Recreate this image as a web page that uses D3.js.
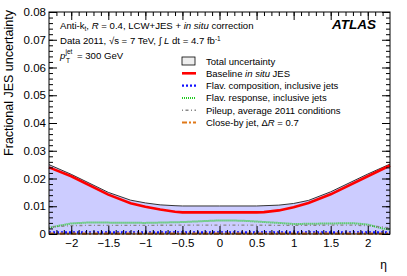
<!DOCTYPE html>
<meta charset="utf-8">
<script src="https://d3js.org/d3.v7.min.js"></script>
<style>
  body { margin: 0; background: #fff; }
  text { font-family: "Liberation Sans", Arial, sans-serif; }
</style>
<div id="my_dataviz"></div>
<script>

// values
var eta = [-2.3, -2.0, -1.5, -1.2, -1.0, -0.8, -0.6, -0.5, 0.0, 0.5, 0.6, 0.8, 1.0, 1.2, 1.5, 2.0, 2.3];
var total    = [0.0250, 0.0215, 0.0150, 0.0122, 0.0112, 0.0105, 0.0102, 0.0101, 0.0101, 0.0101, 0.0102, 0.0104, 0.0110, 0.0121, 0.0152, 0.0216, 0.0252];
var baseline = [0.0240, 0.0208, 0.0142, 0.0111, 0.0098, 0.0088, 0.0080, 0.0078, 0.0078, 0.0078, 0.0079, 0.0085, 0.0096, 0.0112, 0.0143, 0.0208, 0.0247];

var etaFine = [-2.3, -2.2, -2.0, -1.8, -1.5, -1.0, -0.5, 0.0, 0.3, 0.5, 0.8, 1.0, 1.5, 1.8, 2.0, 2.2, 2.3];
var flavResp = [0.0022, 0.0028, 0.0038, 0.0041, 0.0041, 0.0040, 0.0043, 0.0049, 0.0048, 0.0045, 0.0040, 0.0036, 0.0038, 0.0039, 0.0034, 0.0020, 0.0016];
var pileup   = [0.0024, 0.0027, 0.0030, 0.0031, 0.0031, 0.0031, 0.0032, 0.0032, 0.0032, 0.0032, 0.0031, 0.0031, 0.0032, 0.0032, 0.0030, 0.0025, 0.0022];
var flavComp = [0.0006, 0.0006, 0.0006, 0.0006, 0.0006, 0.0006, 0.0006, 0.0006, 0.0006, 0.0006, 0.0006, 0.0006, 0.0006, 0.0006, 0.0006, 0.0006, 0.0006];
var closeBy  = [0.0001, 0.0001, 0.0001, 0.0001, 0.0001, 0.0001, 0.0001, 0.0001, 0.0001, 0.0001, 0.0001, 0.0001, 0.0001, 0.0001, 0.0001, 0.0001, 0.0001];

var xTicks = [-2, -1.5, -1, -0.5, 0, 0.5, 1, 1.5, 2];
var yTicks = [0, 0.01, 0.02, 0.03, 0.04, 0.05, 0.06, 0.07, 0.08];

var legendNames = ["Total uncertainty", "Baseline in situ JES", "Flav. composition, inclusive jets",
  "Flav. response,  inclusive jets", "Pileup,  average 2011 conditions", "Close-by jet,  ΔR = 0.7"];

// dimensions
var W = 407, H = 276;
var margin = {top: 12, right: 17, bottom: 42, left: 49};
var width = W - margin.left - margin.right,
    height = H - margin.top - margin.bottom;

var svg = d3.select("#my_dataviz").append("svg")
    .attr("width", W).attr("height", H)
  .append("g")
    .attr("transform", "translate(" + margin.left + "," + margin.top + ")");

var x = d3.scaleLinear().domain([-2.3, 2.3]).range([0, width]);
var y = d3.scaleLinear().domain([0, 0.08]).range([height, 0]);

// total band
var area = d3.area().x(function(d){ return x(d[0]); }).y0(y(0)).y1(function(d){ return y(d[1]); });
var line = d3.line().x(function(d){ return x(d[0]); }).y(function(d){ return y(d[1]); });

var totPts = d3.zip(eta, total);
svg.append("path").attr("d", area(totPts)).attr("fill", "#ccccff");
svg.append("path").attr("d", line(totPts)).attr("fill", "none").attr("stroke", "#333").attr("stroke-width", 1);

// flav resp, pileup, flav comp, close-by, baseline
var series = [
  {pts: d3.zip(etaFine, flavResp), color: "#22cc22", w: 2, dash: "1,1"},
  {pts: d3.zip(etaFine, pileup), color: "#888888", w: 1.4, dash: "1,2.5,3,2.5"},
  {pts: d3.zip(etaFine, flavComp), color: "#1010ff", w: 2.2, dash: "2,2"},
  {pts: d3.zip(etaFine, closeBy), color: "#e07818", w: 2.2, dash: "5,2,2,2"},
  {pts: d3.zip(eta, baseline), color: "#ff0000", w: 2.6, dash: null}
];
series.forEach(function(s) {
  svg.append("path").attr("d", line(s.pts)).attr("fill", "none")
    .attr("stroke", s.color).attr("stroke-width", s.w)
    .attr("stroke-dasharray", s.dash);
});

// frame and axes
svg.append("rect").attr("width", width).attr("height", height)
  .attr("fill", "none").attr("stroke", "#000").attr("stroke-width", 1);

var xMinor = d3.range(-22, 23).map(function(v){ return v / 10; });
var yMinor = d3.range(0, 41).map(function(v){ return v * 0.002; });

function axisG(axis, tx, ty) {
  var g = svg.append("g").attr("transform", "translate(" + tx + "," + ty + ")").call(axis);
  g.select(".domain").remove();
  return g;
}

// bottom
axisG(d3.axisTop(x).tickValues(xMinor).tickSize(4).tickFormat(""), 0, height);
axisG(d3.axisTop(x).tickValues(xTicks).tickSize(8).tickFormat(""), 0, height);
axisG(d3.axisBottom(x).tickValues(xTicks).tickSize(0).tickPadding(5).tickFormat(d3.format("")), 0, height)
  .style("font-size", "11.5px");
// top
axisG(d3.axisBottom(x).tickValues(xMinor).tickSize(4).tickFormat(""), 0, 0);
axisG(d3.axisBottom(x).tickValues(xTicks).tickSize(8).tickFormat(""), 0, 0);
// left
axisG(d3.axisRight(y).tickValues(yMinor).tickSize(4).tickFormat(""), 0, 0);
axisG(d3.axisRight(y).tickValues(yTicks).tickSize(8).tickFormat(""), 0, 0);
axisG(d3.axisLeft(y).tickValues(yTicks).tickSize(0).tickPadding(3).tickFormat(function(d){ return d === 0 ? "0" : d3.format(".2f")(d); }), 0, 0)
  .style("font-size", "11.5px");
// right
axisG(d3.axisLeft(y).tickValues(yMinor).tickSize(4).tickFormat(""), width, 0);
axisG(d3.axisLeft(y).tickValues(yTicks).tickSize(8).tickFormat(""), width, 0);

svg.selectAll(".tick text").attr("fill", "#000").style("font-family", "'Liberation Sans', Arial, sans-serif");
svg.selectAll(".tick line").attr("stroke", "#000");

// axis titles (ROOT style: aligned to the top / right end)
svg.append("text").attr("x", width - 3).attr("y", height + 35)
  .attr("text-anchor", "end").style("font-size", "12px").text("η");
svg.append("text").attr("transform", "translate(-36,-2) rotate(-90)")
  .attr("text-anchor", "end").style("font-size", "12.5px").text("Fractional JES uncertainty");

// top-left labels
var fs = "9.6px", fsSmall = "6.5px";
var lab = svg.append("text").attr("x", 11).attr("y", 16.5).style("font-size", fs);
lab.append("tspan").text("Anti-k");
lab.append("tspan").attr("dy", 2).style("font-size", fsSmall).text("t");
lab.append("tspan").attr("dy", -2).text(", ");
lab.append("tspan").style("font-style", "italic").text("R");
lab.append("tspan").text(" = 0.4, LCW+JES + ");
lab.append("tspan").style("font-style", "italic").text("in situ");
lab.append("tspan").text(" correction");

var lab2 = svg.append("text").attr("x", 11).attr("y", 32).style("font-size", fs);
lab2.append("tspan").text("Data 2011, √s = 7 TeV, ∫ ");
lab2.append("tspan").style("font-style", "italic").text("L");
lab2.append("tspan").text(" dt = 4.7 fb");
lab2.append("tspan").attr("dy", -3.5).style("font-size", fsSmall).text("-1");

// p_T^jet = 300 GeV
svg.append("text").attr("x", 11).attr("y", 47).style("font-size", fs).style("font-style", "italic").text("p");
svg.append("text").attr("x", 16.5).attr("y", 41.5).style("font-size", fsSmall).text("jet");
svg.append("text").attr("x", 17).attr("y", 51).style("font-size", fsSmall).text("T");
svg.append("text").attr("x", 28).attr("y", 47).style("font-size", fs).text("= 300 GeV");

svg.append("text").attr("x", width - 14).attr("y", 16.5).attr("text-anchor", "end")
  .style("font-size", "13.5px").style("font-weight", "bold").style("font-style", "italic").text("ATLAS");

// legend
var legX = 133, legY0 = 49, legDy = 12.3;
var legLines = [series[4], series[2], series[0], series[1], series[3]];
var leg = svg.append("g");
legendNames.forEach(function(name, i) {
  var cy = legY0 + i * legDy;
  if (i === 0) {
    leg.append("rect").attr("x", legX).attr("y", cy - 4).attr("width", 13).attr("height", 8)
      .attr("fill", "#eeeeee").attr("stroke", "#000").attr("stroke-width", 0.8);
  } else {
    var s = legLines[i - 1];
    leg.append("line").attr("x1", legX).attr("x2", legX + 14).attr("y1", cy).attr("y2", cy)
      .attr("stroke", s.color).attr("stroke-width", s.w).attr("stroke-dasharray", s.dash);
  }
  var t = leg.append("text").attr("x", legX + 24).attr("y", cy + 3.5).style("font-size", "9.5px");
  if (i === 1) {
    t.append("tspan").text("Baseline ");
    t.append("tspan").style("font-style", "italic").text("in situ");
    t.append("tspan").text(" JES");
  } else if (i === 5) {
    t.append("tspan").text("Close-by jet,  Δ");
    t.append("tspan").style("font-style", "italic").text("R");
    t.append("tspan").text(" = 0.7");
  } else {
    t.text(name);
  }
});

</script>
